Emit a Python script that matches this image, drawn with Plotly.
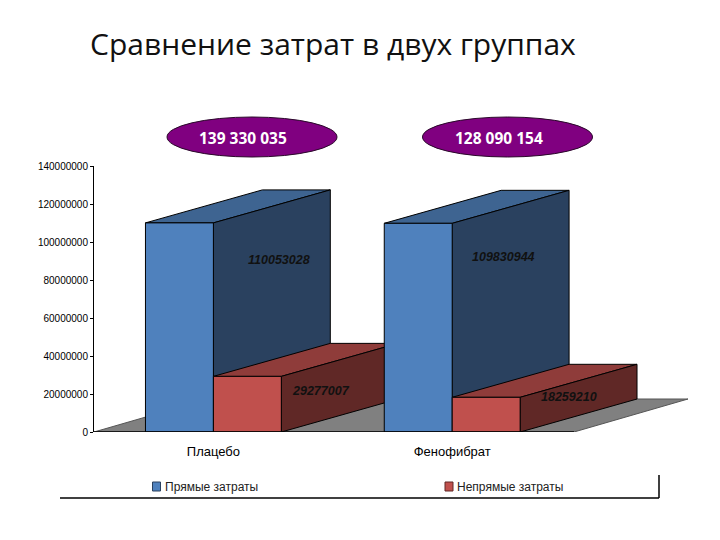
import plotly.graph_objects as go

categories = ["Плацебо", "Фенофибрат"]
direct_costs = [110053028, 109830944]
indirect_costs = [29277007, 18259210]
series_names = ["Прямые затраты", "Непрямые затраты"]
y_ticks = [0, 20000000, 40000000, 60000000, 80000000, 100000000, 120000000, 140000000]
totals = ["139 330 035", "128 090 154"]
title_text = "Сравнение затрат в двух группах"

BAR_W = 68 / 239
DX = 117 / 239
DY = 33 / 1.9 * 1e6
LINE = dict(color="#000000", width=1)
FILLS = [
    dict(front="#4F81BD", top="#3E6491", side="#2A415F"),
    dict(front="#C0504D", top="#8F3C3A", side="#602826"),
]


def poly(xs, ys, fill, line=LINE, name=None):
    return go.Scatter(
        x=list(xs) + [xs[0]], y=list(ys) + [ys[0]], mode="lines", fill="toself",
        fillcolor=fill, line=line, name=name, showlegend=False, hoverinfo="skip",
    )


def box(left, value, colors, name):
    right = left + BAR_W
    return [
        poly([left, right, right + DX, left + DX], [value, value, value + DY, value + DY], colors["top"]),
        poly([right, right + DX, right + DX, right], [0, DY, value + DY, value], colors["side"]),
        poly([left, right, right, left], [0, 0, value, value], colors["front"], name=name),
    ]


fig = go.Figure()
XMIN, XMAX, XEND = -0.5, 1.51, 1.9875
FLOOR_DX = XEND - XMAX
fig.add_trace(poly([XMIN, XMAX, XEND, XMIN + FLOOR_DX], [0, 0, DY, DY], "#808080",
                   line=dict(color="#555555", width=1)))
for i in range(len(categories)):
    fig.add_traces(box(i - BAR_W, direct_costs[i], FILLS[0], series_names[0]))
    fig.add_traces(box(i, indirect_costs[i], FILLS[1], series_names[1]))
fig.add_trace(go.Scatter(x=[XMIN, XMAX], y=[0, 0], mode="lines", line=dict(color="#000000", width=1.5),
                         showlegend=False, hoverinfo="skip"))

# The page puts the figure 8 px in from the window corner.
PAGE = 8
FIG_W, FIG_H = 704, 524
L, R, T, B = 86, 24, 158, 100
W, H = FIG_W - L - R, FIG_H - T - B
px = lambda x: (x - PAGE - L) / W
py = lambda y: (FIG_H - B - (y - PAGE)) / H

annotations = []
label_offsets = [(0.276, -19.5e6), (0.452, -7.7e6), (0.213, -17.8e6), (0.490, 0)]
label_values = [direct_costs[0], indirect_costs[0], direct_costs[1], indirect_costs[1]]
label_cats = [0, 0, 1, 1]
for (ox, oy), v, c in zip(label_offsets, label_values, label_cats):
    annotations.append(dict(
        x=c + ox, y=v + oy, xref="x", yref="y", text=f"<b><i>{v}</i></b>", showarrow=False,
        font=dict(family="Liberation Sans", size=12.5, color="#111111"),
    ))
annotations.append(dict(
    x=px(88), y=py(43), xref="paper", yref="paper", xanchor="left", yanchor="middle",
    text=title_text, showarrow=False,
    font=dict(family="Open Sans", size=30, color="#111111"),
))

shapes = []
for cx, text in zip((252, 507.5), totals):
    shapes.append(dict(type="circle", xref="paper", yref="paper",
                       x0=px(cx - 85), x1=px(cx + 85), y0=py(157), y1=py(117),
                       fillcolor="#800080", line=dict(color="#2A0A2A", width=1)))
    annotations.append(dict(x=px(cx - 9), y=py(138), xref="paper", yref="paper", text=f"<b>{text}</b>",
                            xanchor="center", yanchor="middle",
                            showarrow=False, font=dict(family="Open Sans", size=15.5, color="#FFFFFF")))
shapes.append(dict(type="line", xref="paper", yref="paper", x0=px(60), x1=px(659), y0=py(498), y1=py(498),
                   line=dict(color="#000000", width=1.5)))
shapes.append(dict(type="line", xref="paper", yref="paper", x0=px(659), x1=px(659), y0=py(498), y1=py(475),
                   line=dict(color="#000000", width=1.5)))
for sx, tx, name, colors in zip((152.5, 445), (163, 455), series_names, FILLS):
    shapes.append(dict(type="rect", xref="paper", yref="paper", x0=px(sx), x1=px(sx + 8), y0=py(491), y1=py(482),
                       fillcolor=colors["front"], line=dict(color=colors["side"], width=1)))
    annotations.append(dict(x=px(tx), y=py(487), xref="paper", yref="paper", xanchor="left", yanchor="middle",
                            text=name, showarrow=False,
                            font=dict(family="Liberation Sans", size=12, color="#222222")))

fig.update_layout(
    width=FIG_W, height=FIG_H, autosize=False,
    margin=dict(l=L, r=R, t=T, b=B, pad=0),
    paper_bgcolor="#FFFFFF", plot_bgcolor="#FFFFFF",
    font=dict(family="Liberation Sans", color="#000000"),
    showlegend=False,
    xaxis=dict(range=[XMIN, XEND], tickvals=[0, 1], ticktext=categories, showgrid=False, zeroline=False,
               showline=False, ticks="outside", ticklen=7, tickcolor="rgba(0,0,0,0)",
               tickfont=dict(family="Liberation Sans", size=13, color="#000000")),
    yaxis=dict(range=[0, 140000000], tickvals=y_ticks, ticktext=[str(v) for v in y_ticks], showgrid=False,
               zeroline=False, showline=True, linecolor="#000000", linewidth=1, ticks="outside", ticklen=3,
               tickcolor="#000000", tickfont=dict(family="Liberation Sans", size=10, color="#000000")),
    annotations=annotations, shapes=shapes,
)
fig.write_html("out.html")
